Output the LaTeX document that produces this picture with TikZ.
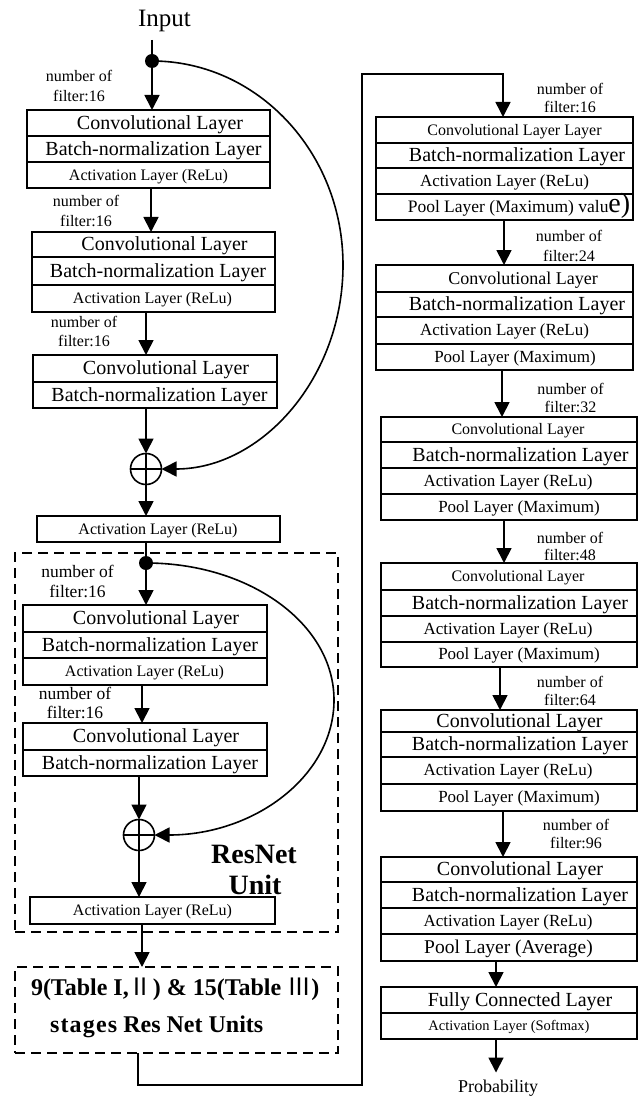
\documentclass[tikz,border=0pt]{standalone}
\usepackage{fontspec}
\setmainfont{Liberation Serif}
\newfontfamily\cjk{Noto Sans CJK SC}
\usetikzlibrary{arrows.meta,calc}
\tikzset{
 rowbox/.style={draw, line width=1.1pt, rectangle, inner sep=0pt, outer sep=0pt},
 txt/.style={inner sep=0pt, outer sep=0pt, text=black},
 arr/.style={line width=1.8pt, -{Triangle[width=15pt,length=15pt]}},
 plainline/.style={line width=1.8pt},
 dotn/.style={circle, fill=black, inner sep=0pt, minimum size=14pt, outer sep=0pt},
 plusn/.style={circle, draw, line width=1.6pt, inner sep=0pt, minimum size=31pt, outer sep=0pt,
   path picture={\draw[line width=1.6pt] (path picture bounding box.north) -- (path picture bounding box.south)
   (path picture bounding box.west) -- (path picture bounding box.east);}},
 dashbox/.style={draw, line width=2.2pt, dash pattern=on 10pt off 6pt, inner sep=0pt, outer sep=0pt},
}
\newcommand{\lrow}[8]{%
 \node[rowbox, minimum width={#3-#2}, minimum height={#5-#4}] (#1) at ({(#2+#3)/2},{(#4+#5)/2}) {};
 \node[txt, font=\fontsize{#7}{#7}\selectfont, anchor=base] (#1t) at (#6,{(#4+#5)/2+0.32*#7}) {#8};}
\newcommand{\nfl}[6]{%
 \node[txt, font=\fontsize{#6}{#6}\selectfont, anchor=base] (#1a) at (#2,{#3+0.3*#6}) {number of};
 \node[txt, font=\fontsize{#6}{#6}\selectfont, anchor=base] (#1b) at (#2,{#4+0.3*#6}) {filter:#5};}
\begin{document}
\begin{tikzpicture}[x=1pt,y=-1pt]
\fill[white] (0,0) rectangle (644,1099);
\useasboundingbox (0,0) rectangle (644,1099);
% ---------- left column ----------
\node[txt, font=\fontsize{25}{25}\selectfont, anchor=base] (input) at (164.5,27) {Input};
\coordinate (in0) at (152,40);
\node[dotn] (dot1) at (152,61) {};
\nfl{L1}{79}{77}{97}{16}{16}
\lrow{b1a}{27}{270}{110}{136}{160}{20}{Convolutional Layer}
\lrow{b1b}{27}{270}{136}{162}{153.5}{20}{Batch-normalization Layer}
\lrow{b1c}{27}{270}{162}{188}{148.5}{16}{Activation Layer (ReLu)}
\nfl{L2}{86}{202}{222}{16}{16}
\lrow{b2a}{32}{275}{232}{257}{164.5}{20}{Convolutional Layer}
\lrow{b2b}{32}{275}{257}{285}{158}{20}{Batch-normalization Layer}
\lrow{b2c}{32}{275}{285}{312}{152.5}{16}{Activation Layer (ReLu)}
\nfl{L3}{84}{323}{342}{16}{16}
\lrow{b3a}{33}{277}{355}{382}{166}{20}{Convolutional Layer}
\lrow{b3b}{33}{277}{382}{408}{159.5}{20}{Batch-normalization Layer}
\node[plusn] (p1) at (146,469) {};
\lrow{a1}{37}{280}{516}{542}{158}{16}{Activation Layer (ReLu)}
\coordinate (cr1) at (343,265);
% ResNet unit
\node[dashbox, minimum width=323, minimum height=379] (rn) at (176.5,742.5) {};
\node[dotn] (dot2) at (146,563) {};
\nfl{L4}{77.5}{572}{592}{16}{17.5}
\lrow{b4a}{23}{267}{605}{632}{156}{20}{Convolutional Layer}
\lrow{b4b}{23}{267}{632}{658}{150}{20}{Batch-normalization Layer}
\lrow{b4c}{23}{267}{658}{685}{144.5}{16}{Activation Layer (ReLu)}
\nfl{L5}{75}{694}{713}{16}{17.5}
\lrow{b5a}{23}{267}{723}{750}{156}{20}{Convolutional Layer}
\lrow{b5b}{23}{267}{750}{776}{150}{20}{Batch-normalization Layer}
\node[plusn] (p2) at (139,835) {};
\coordinate (cr2) at (334,700);
\node[txt, font=\bfseries\fontsize{28}{28}\selectfont, anchor=base] (rnl1) at (254,863) {ResNet};
\node[txt, font=\bfseries\fontsize{28}{28}\selectfont, anchor=base] (rnl2) at (255,894) {Unit};
\lrow{a2}{30}{275}{897}{924}{152.5}{16}{Activation Layer (ReLu)}
% stages box
\node[dashbox, minimum width=323, minimum height=86] (st) at (176.5,1010) {};
\node[txt, font=\bfseries\fontsize{24}{24}\selectfont, anchor=base west] (st1) at (31,995) {9(Table I,{\cjk\mdseries Ⅱ}) \& 15(Table {\cjk\mdseries Ⅲ})};
\node[txt, font=\bfseries\fontsize{24}{24}\selectfont, anchor=base west] (st2) at (50,1032) {{\addfontfeature{LetterSpace=5}stages} Res Net Units};
% ---------- right column ----------
\nfl{R1L}{570}{90}{108}{16}{16}
\lrow{r1a}{376}{633}{117}{143}{514.5}{16}{Convolutional Layer Layer}
\lrow{r1b}{376}{633}{143}{168}{517}{20}{Batch-normalization Layer}
\lrow{r1c}{376}{633}{168}{194}{504.5}{17}{Activation Layer (ReLu)}
\lrow{r1d}{376}{633}{194}{220}{519}{17.5}{Pool Layer (Maximum) valu{\fontsize{28}{28}\selectfont e)}}
\nfl{R2L}{569}{237}{257}{24}{16}
\lrow{r2a}{376}{633}{265}{292}{523}{18}{Convolutional Layer}
\lrow{r2b}{376}{633}{292}{317}{517}{20}{Batch-normalization Layer}
\lrow{r2c}{376}{633}{317}{344}{504.5}{17}{Activation Layer (ReLu)}
\lrow{r2d}{376}{633}{344}{370}{515}{17}{Pool Layer (Maximum)}
\nfl{R3L}{570.5}{390}{408}{32}{16}
\lrow{r3a}{381}{637}{417}{442}{518}{16}{Convolutional Layer}
\lrow{r3b}{381}{637}{442}{468}{520.5}{20}{Batch-normalization Layer}
\lrow{r3c}{381}{637}{468}{494}{508}{17}{Activation Layer (ReLu)}
\lrow{r3d}{381}{637}{494}{520}{519}{17}{Pool Layer (Maximum)}
\nfl{R4L}{570}{539}{556}{48}{16}
\lrow{r4a}{381}{637}{563}{590}{518}{16}{Convolutional Layer}
\lrow{r4b}{381}{637}{590}{616}{520}{20}{Batch-normalization Layer}
\lrow{r4c}{381}{637}{616}{642}{508}{17}{Activation Layer (ReLu)}
\lrow{r4d}{381}{637}{642}{667}{519}{17}{Pool Layer (Maximum)}
\nfl{R5L}{570}{683}{701}{64}{16}
\lrow{r5a}{381}{637}{710}{732}{519.5}{20}{Convolutional Layer}
\lrow{r5b}{381}{637}{732}{757}{520}{20}{Batch-normalization Layer}
\lrow{r5c}{381}{637}{757}{784}{508}{17}{Activation Layer (ReLu)}
\lrow{r5d}{381}{637}{784}{811}{519}{17}{Pool Layer (Maximum)}
\nfl{R6L}{576}{826}{844}{96}{16}
\lrow{r6a}{381}{637}{857}{882}{520}{20}{Convolutional Layer}
\lrow{r6b}{381}{637}{882}{908}{520}{20}{Batch-normalization Layer}
\lrow{r6c}{381}{637}{908}{934}{508}{17}{Activation Layer (ReLu)}
\lrow{r6d}{381}{637}{934}{961}{508.5}{19.5}{Pool Layer (Average)}
\lrow{r7a}{381}{637}{987}{1013}{520}{20}{Fully Connected Layer}
\lrow{r7b}{381}{637}{1013}{1039}{509}{14.5}{Activation Layer (Softmax)}
\node[txt, font=\fontsize{18}{18}\selectfont, anchor=base] (prob) at (498,1092) {Probability};
% ---------- connectors ----------
\draw[plainline] (in0) -- (dot1.center);
\draw[arr] (dot1.center) -- (dot1 |- b1a.north);
\draw[arr] ([xshift=2.5pt]b1c.south) -- ([xshift=-2.5pt]b2a.north);
\draw[arr] ([xshift=-7.5pt]b2c.south) -- ([xshift=-9pt]b3a.north);
\draw[arr] (p1 |- b3b.south) -- (p1.north);
\draw[arr] (p1.south) -- (p1 |- a1.north);
\draw[arr, line width=1.6pt] (dot1.center) .. controls +(105,0) and +(0,-113) .. (cr1) .. controls +(0,113) and +(100,0) .. (p1.east);
\draw[plainline] (a1.south -| dot2) -- (dot2.center);
\draw[arr] (dot2.center) -- (dot2 |- b4a.north);
\draw[arr] ([xshift=-3pt]b4c.south) -- ([xshift=-3pt]b5a.north);
\draw[arr] (p2 |- b5b.south) -- (p2.north);
\draw[arr] (p2.south) -- (p2 |- a2.north);
\draw[arr, line width=1.6pt] (dot2.center) .. controls +(104,0) and +(0,-76) .. (cr2) .. controls +(0,76) and +(100,0) .. (p2.east);
\coordinate (a2x) at ([xshift=-10.5pt]a2.south);
\draw[arr] (a2x) -- (a2x |- st.north);
\coordinate (stx) at ([xshift=-38.5pt]st.south);
\coordinate (ret1) at (362,1085);
\coordinate (ret2) at (362,74);
\coordinate (r1x) at ([xshift=-1.5pt]r1a.north);
\draw[arr, line width=1.5pt] (stx) |- (ret1) -- (ret2) -| (r1x);
\draw[arr] ([xshift=-0.5pt]r1d.south) -- ([xshift=-0.5pt]r2a.north);
\draw[arr] ([xshift=-2.5pt]r2d.south) -- ([xshift=-7pt]r3a.north);
\draw[arr] ([xshift=-5pt]r3d.south) -- ([xshift=-5pt]r4a.north);
\draw[arr] ([xshift=-9pt]r4d.south) -- ([xshift=-9pt]r5a.north);
\draw[arr] ([xshift=-6pt]r5d.south) -- ([xshift=-6pt]r6a.north);
\draw[arr] ([xshift=-13pt]r6d.south) -- ([xshift=-13pt]r7a.north);
\coordinate (r7x) at ([xshift=-13pt]r7b.south);
\draw[arr, shorten >=7pt] (r7x) -- (r7x |- prob.north);
\end{tikzpicture}
\end{document}
